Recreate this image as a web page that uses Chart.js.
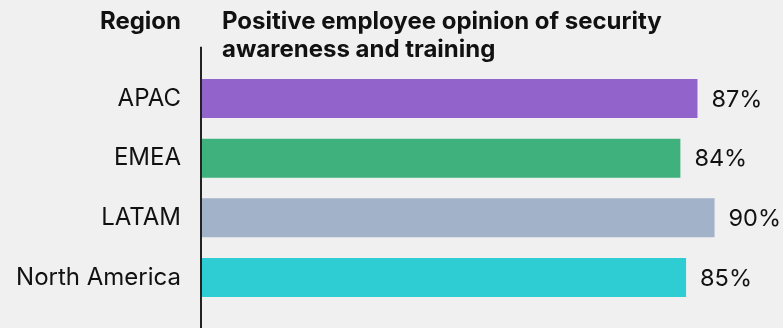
<!DOCTYPE html>
<html>
<head>
<meta charset="utf-8">
<script src="https://cdn.jsdelivr.net/npm/chart.js@4"></script>
<style>
  html, body { margin: 0; padding: 0; background: #f0f0f0; }
  #wrap { width: 783px; height: 328px; position: relative; }
</style>
</head>
<body>
<div id="wrap"><canvas id="regionChart" width="783" height="328"></canvas></div>
<script>
const regions = ["APAC", "EMEA", "LATAM", "North America"];
const positiveOpinion = [87, 84, 90, 85];
const barColors = ["#9163cb", "#3eb17d", "#a2b2c8", "#2dcdd3"];
const regionHeader = "Region";
const valueHeader = ["Positive employee opinion of security", "awareness and training"];

const fontName = "Inter, 'Noto Sans', sans-serif";
const textColor = "#111111";

// headers, axis line and value labels
const extras = {
  id: "extras",
  afterDraw(chart) {
    const c = chart.ctx;
    const area = chart.chartArea;
    c.save();

    c.strokeStyle = "#222222";
    c.lineWidth = 2;
    c.beginPath();
    c.moveTo(area.left - 1, area.top - 22);
    c.lineTo(area.left - 1, chart.height);
    c.stroke();

    c.fillStyle = textColor;
    c.font = "bold 24px " + fontName;
    c.textBaseline = "alphabetic";
    c.textAlign = "right";
    c.fillText(regionHeader, area.left - 21, 29);
    c.textAlign = "left";
    valueHeader.forEach(function (line, i) {
      c.fillText(line, area.left + 20, 29 + i * 28);
    });

    c.font = "23.5px " + fontName;
    c.textBaseline = "middle";
    const meta = chart.getDatasetMeta(0);
    meta.data.forEach(function (bar, i) {
      c.fillText(positiveOpinion[i] + "%", bar.x + 14, bar.y + 1);
    });
    c.restore();
  }
};

const ctx = document.getElementById("regionChart").getContext("2d");
new Chart(ctx, {
  type: "bar",
  data: {
    labels: regions,
    datasets: [{
      data: positiveOpinion,
      backgroundColor: barColors,
      borderWidth: 0,
      categoryPercentage: 1,
      barPercentage: 0.655
    }]
  },
  options: {
    indexAxis: "y",
    responsive: false,
    animation: false,
    layout: {
      padding: { top: 68.7, bottom: 20.7, right: 11.5, left: 0 }
    },
    plugins: {
      legend: { display: false },
      tooltip: { enabled: false }
    },
    scales: {
      x: {
        display: false,
        min: 0,
        max: 100
      },
      y: {
        afterFit(scale) {
          scale.width = 202;
          scale.paddingTop = 0;
          scale.paddingBottom = 0;
        },
        grid: { display: false, drawTicks: false },
        border: { display: false },
        ticks: {
          padding: 21,
          color: textColor,
          font: { family: fontName, size: 24 }
        }
      }
    }
  },
  plugins: [extras]
});
</script>
</body>
</html>
